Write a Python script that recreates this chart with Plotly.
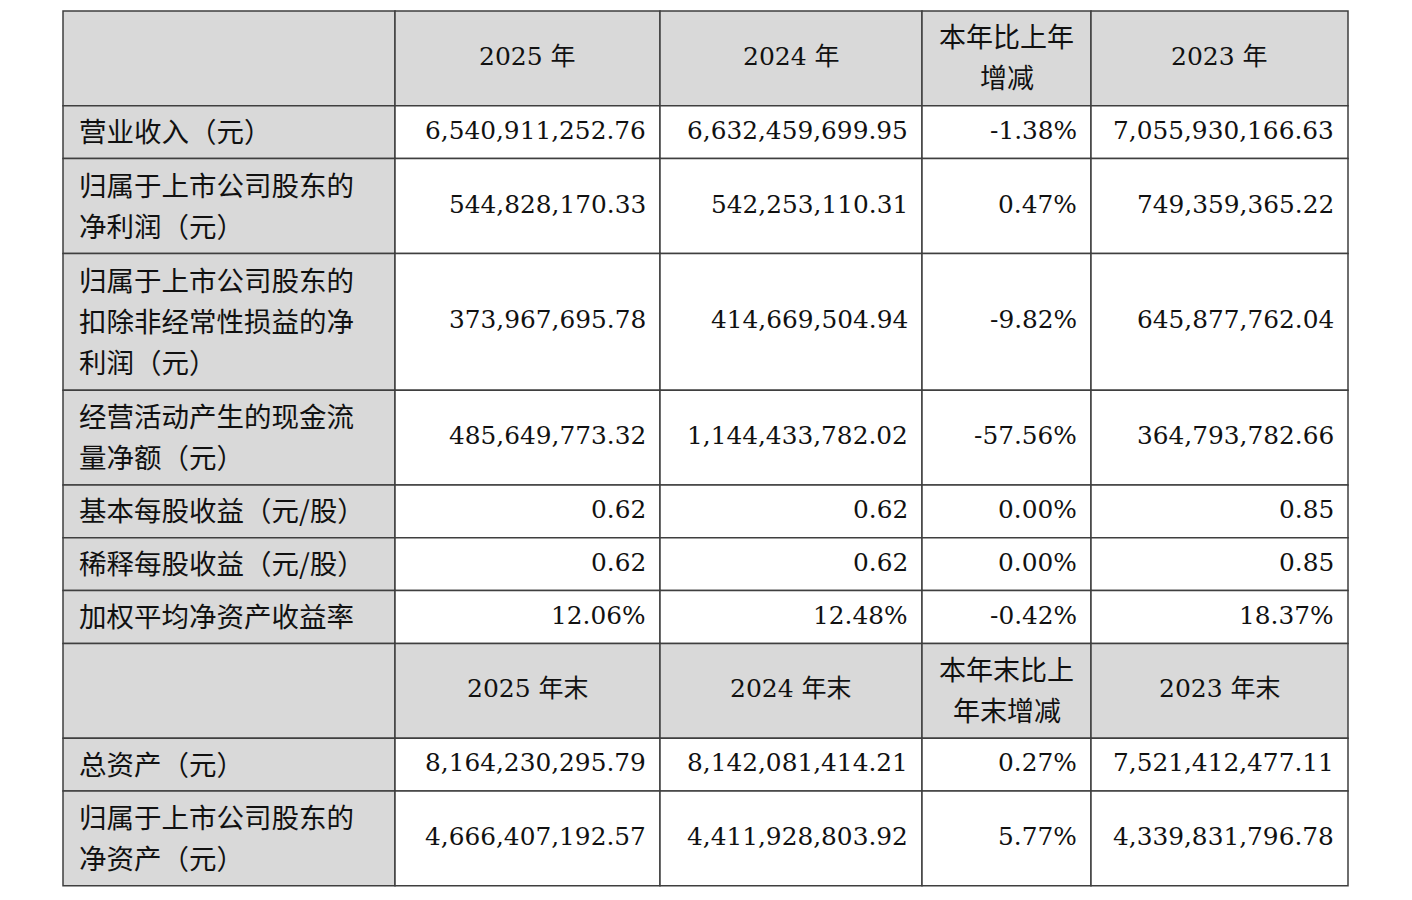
import plotly.graph_objects as go

# ---------------- data ----------------
header_1 = ["", "2025 年", "2024 年", "本年比上年\n增减", "2023 年"]
labels_1 = [
    "营业收入（元）",
    "归属于上市公司股东的\n净利润（元）",
    "归属于上市公司股东的\n扣除非经常性损益的净\n利润（元）",
    "经营活动产生的现金流\n量净额（元）",
    "基本每股收益（元/股）",
    "稀释每股收益（元/股）",
    "加权平均净资产收益率",
]
y2025 = ["6,540,911,252.76", "544,828,170.33", "373,967,695.78", "485,649,773.32", "0.62", "0.62", "12.06%"]
y2024 = ["6,632,459,699.95", "542,253,110.31", "414,669,504.94", "1,144,433,782.02", "0.62", "0.62", "12.48%"]
yoy = ["-1.38%", "0.47%", "-9.82%", "-57.56%", "0.00%", "0.00%", "-0.42%"]
y2023 = ["7,055,930,166.63", "749,359,365.22", "645,877,762.04", "364,793,782.66", "0.85", "0.85", "18.37%"]

header_2 = ["", "2025 年末", "2024 年末", "本年末比上\n年末增减", "2023 年末"]
labels_2 = ["总资产（元）", "归属于上市公司股东的\n净资产（元）"]
e2025 = ["8,164,230,295.79", "4,666,407,192.57"]
e2024 = ["8,142,081,414.21", "4,411,928,803.92"]
e_chg = ["0.27%", "5.77%"]
e2023 = ["7,521,412,477.11", "4,339,831,796.78"]

# ---------------- layout / style ----------------
W, H = 1412, 900
page_margin = 8          # browser default body margin
col_edges = [63, 395, 660, 922, 1091, 1348]
top = 11
base_h = 52.8
line_step = 42
text_step = 41
text_dy = -2
pad_left = 14
pad_right = 12
gray = "#d9d9d9"
border = "#3f3f3f"
cjk_font = "Noto Sans CJK SC, Noto Sans, sans-serif"
num_font = "DejaVu Serif, Noto Sans CJK SC, serif"
text_color = "#111111"

rows = [("header", header_1)]
for i in range(len(labels_1)):
    rows.append(("body", [labels_1[i], y2025[i], y2024[i], yoy[i], y2023[i]]))
rows.append(("header", header_2))
for i in range(len(labels_2)):
    rows.append(("body", [labels_2[i], e2025[i], e2024[i], e_chg[i], e2023[i]]))

shapes = []
annotations = []
y0 = top
for kind, cells in rows:
    nlines = max(c.count("\n") + 1 for c in cells)
    h = base_h + line_step * (nlines - 1)
    y1 = y0 + h
    yc = (y0 + y1) / 2 + text_dy
    for j, txt in enumerate(cells):
        x0, x1 = col_edges[j], col_edges[j + 1]
        fill = gray if (kind == "header" or j == 0) else "white"
        shapes.append(dict(type="rect", xref="x", yref="y", x0=x0, x1=x1, y0=y0, y1=y1,
                           fillcolor=fill, line=dict(color=border, width=1.5), layer="below"))
        parts = txt.split("\n") if txt else []
        n = len(parts)
        for k, p in enumerate(parts):
            ty = yc + (k - (n - 1) / 2) * text_step
            if kind == "header":
                xa, tx, fam, fs = "center", (x0 + x1) / 2, num_font, 25
                if all(ord(ch) > 255 for ch in p):
                    fam, fs = cjk_font, 27
            elif j == 0:
                xa, tx, fam, fs = "left", x0 + pad_left, cjk_font, 27.5
            else:
                xa, tx, fam, fs = "right", x1 - pad_right, num_font, 24.8
            annotations.append(dict(x=tx, y=ty, xref="x", yref="y", text=p, showarrow=False,
                                    xanchor=xa, yanchor="middle",
                                    font=dict(family=fam, size=fs, color=text_color)))
    y0 = y1

fw, fh = W - 2 * page_margin, H - 2 * page_margin
fig = go.Figure()
fig.add_trace(go.Scatter(x=[page_margin, page_margin + fw], y=[page_margin, page_margin + fh],
                         mode="markers", marker=dict(opacity=0),
                         hoverinfo="skip", showlegend=False))
fig.update_layout(
    width=fw, height=fh, margin=dict(l=0, r=0, t=0, b=0),
    paper_bgcolor="white", plot_bgcolor="white",
    xaxis=dict(range=[page_margin, page_margin + fw], visible=False, fixedrange=True),
    yaxis=dict(range=[page_margin + fh, page_margin], visible=False, fixedrange=True),
    shapes=shapes, annotations=annotations, showlegend=False,
)
fig.write_html("out.html")
